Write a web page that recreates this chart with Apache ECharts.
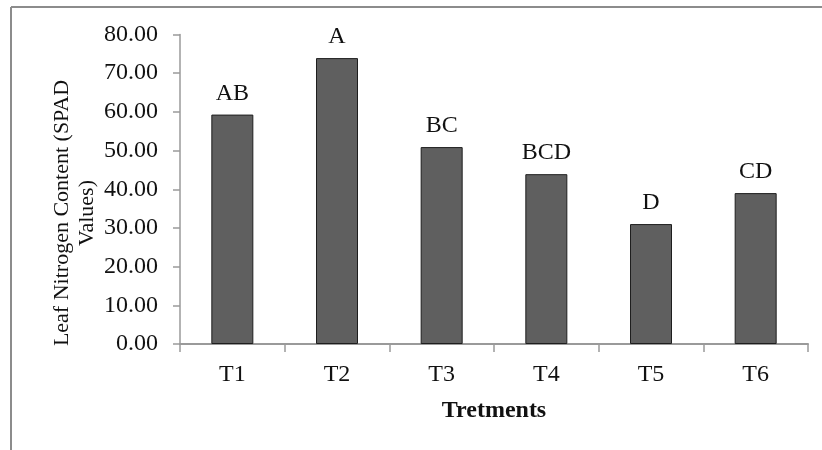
<!DOCTYPE html>
<html>
<head>
<meta charset="utf-8">
<script src="https://cdn.jsdelivr.net/npm/echarts@6/dist/echarts.min.js"></script>
<style>
  html, body { margin: 0; padding: 0; background: #fff; }
  #chart { width: 822px; height: 450px; }
</style>
</head>
<body>
<div id="chart"></div>
<script>
// Treatments and their mean leaf nitrogen (SPAD) readings
const categories = ['T1', 'T2', 'T3', 'T4', 'T5', 'T6'];
const spadValues = [59.3, 73.9, 50.9, 43.9, 31.0, 39.0];
// Mean separation letters shown above each bar
const groupLetters = ['AB', 'A', 'BC', 'BCD', 'D', 'CD'];

const serif = '"Liberation Serif", "Times New Roman", serif';
const axisGray = '#9a9a9a';

const chart = echarts.init(document.getElementById('chart'));
chart.setOption({
  animation: false,
  backgroundColor: '#fff',
  grid: { left: 180, right: 14, top: 34.5, bottom: 106, containLabel: false },
  xAxis: {
    type: 'category',
    data: categories,
    boundaryGap: true,
    axisLine: { show: true, lineStyle: { color: axisGray, width: 2 } },
    axisTick: { show: true, length: 8, alignWithLabel: false, lineStyle: { color: axisGray, width: 1.5 } },
    axisLabel: { color: '#111', fontFamily: serif, fontSize: 24, margin: 19 },
    splitLine: { show: false }
  },
  yAxis: {
    type: 'value',
    min: 0,
    max: 80,
    interval: 10,
    axisLine: { show: true, lineStyle: { color: axisGray, width: 1.5 } },
    axisTick: { show: true, length: 7, inside: false, lineStyle: { color: axisGray, width: 1.5 } },
    axisLabel: {
      color: '#111', fontFamily: serif, fontSize: 24, margin: 22,
      formatter: v => v.toFixed(2)
    },
    splitLine: { show: false }
  },
  series: [{
    type: 'bar',
    data: spadValues,
    barWidth: 42,
    itemStyle: { color: '#5f5f5f', borderColor: '#1e1e1e', borderWidth: 1 },
    label: {
      show: true,
      position: 'top',
      distance: 9,
      color: '#111',
      fontFamily: serif,
      fontSize: 24,
      formatter: p => groupLetters[p.dataIndex]
    }
  }],
  graphic: [
    // frame lines on the left and top edges
    { type: 'line', shape: { x1: 11, y1: 7, x2: 11, y2: 450 }, style: { stroke: '#8c8c8c', lineWidth: 2 } },
    { type: 'line', shape: { x1: 11, y1: 7, x2: 822, y2: 7 }, style: { stroke: '#8c8c8c', lineWidth: 2 } },
    // y-axis title, two lines, rotated
    {
      type: 'text',
      x: 74.5, y: 213,
      rotation: Math.PI / 2,
      style: {
        text: 'Leaf Nitrogen Content (SPAD\nValues)',
        font: '22px ' + serif,
        fill: '#111',
        textAlign: 'center',
        textVerticalAlign: 'middle',
        lineHeight: 25
      }
    },
    // x-axis title
    {
      type: 'text',
      x: 494, y: 411,
      style: {
        text: 'Tretments',
        font: 'bold 24px ' + serif,
        fill: '#111',
        textAlign: 'center',
        textVerticalAlign: 'middle'
      }
    }
  ]
});
</script>
</body>
</html>
